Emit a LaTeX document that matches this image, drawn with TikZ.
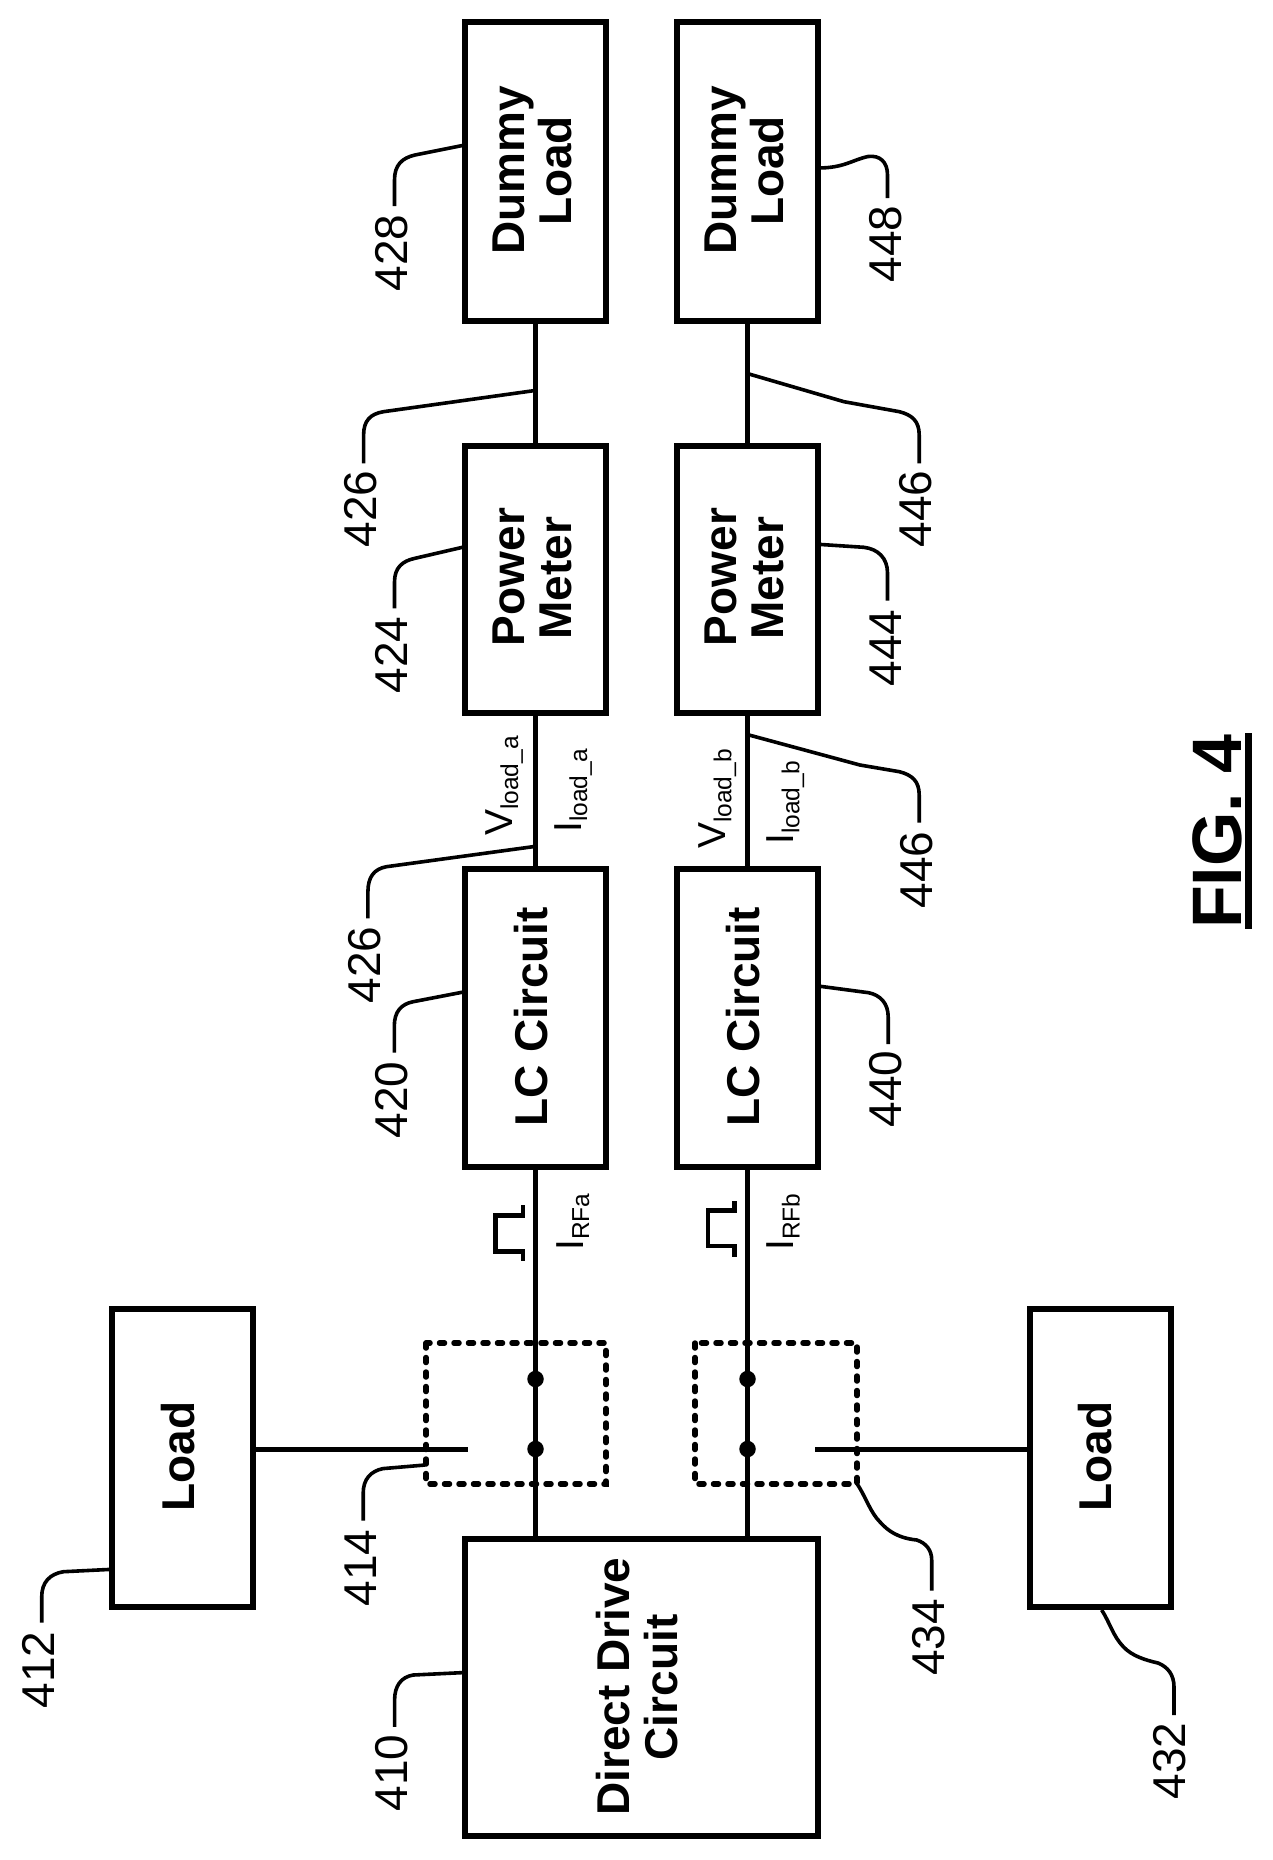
\documentclass[tikz,border=0pt]{standalone}
\usepackage{fontspec}
\setmainfont{Liberation Sans}
\tikzset{
  blk/.style={draw=black,line width=5.5pt,fill=none,inner sep=0pt,outer sep=0pt,line join=miter},
  conn/.style={draw=black,line width=5pt},
  lead/.style={draw=black,line width=3.6pt},
  sw/.style={draw=black,line width=5.5pt,dash pattern=on 5pt off 9.5pt,line cap=round},
  dotn/.style={circle,fill=black,inner sep=0pt,minimum size=16.5pt},
  num/.style={rotate=90,anchor=base,inner sep=0pt,font=\fontsize{46}{50}\selectfont},
  btxt/.style={rotate=90,anchor=base,inner sep=0pt,font=\fontsize{46}{50}\selectfont\bfseries},
  sig/.style={rotate=90,anchor=base west,inner sep=0pt,font=\fontsize{39}{42}\selectfont},
  figt/.style={rotate=90,anchor=base west,inner sep=0pt,font=\fontsize{70}{74}\selectfont\bfseries},
}
\newcommand{\subt}[1]{\raisebox{-6pt}{\fontsize{24.5}{26}\selectfont #1}}
\begin{document}
\begin{tikzpicture}[x=1pt,y=-1pt]
\useasboundingbox (0,0) rectangle (1272,1860);
\fill[white] (0,0) rectangle (1272,1860);
% boxes
\node[blk,minimum width=141pt,minimum height=299pt] (dlA) at (535.5,171.5) {};
\node[blk,minimum width=141pt,minimum height=299pt] (dlB) at (747.5,171.5) {};
\node[blk,minimum width=141pt,minimum height=267pt] (pmA) at (535.5,579.5) {};
\node[blk,minimum width=141pt,minimum height=267pt] (pmB) at (747.5,579.5) {};
\node[blk,minimum width=141pt,minimum height=298pt] (lcA) at (535.5,1018) {};
\node[blk,minimum width=141pt,minimum height=298pt] (lcB) at (747.5,1018) {};
\node[blk,minimum width=353pt,minimum height=297pt] (dd) at (641.5,1687.5) {};
\node[blk,minimum width=141pt,minimum height=298pt] (loadL) at (182.5,1458) {};
\node[blk,minimum width=141pt,minimum height=298pt] (loadR) at (1100.5,1458) {};
% box texts
\node[btxt] (tDa) at (524,170.5) {Dummy};
\node[btxt] (tLa) at (571,171) {Load};
\node[btxt] (tDb) at (736,170.5) {Dummy};
\node[btxt] (tLb) at (783,171) {Load};
\node[btxt] (tPa) at (524,577) {Power};
\node[btxt] (tMa) at (571,578) {Meter};
\node[btxt] (tPb) at (736.5,577) {Power};
\node[btxt] (tMb) at (783.5,578) {Meter};
\node[btxt] (tCa) at (547,1017) {LC Circuit};
\node[btxt] (tCb) at (759,1017) {LC Circuit};
\node[btxt] (tDD) at (629,1686.5) {Direct Drive};
\node[btxt] (tCi) at (677,1687.5) {Circuit};
\node[btxt] (tLL) at (194.3,1456.7) {Load};
\node[btxt] (tLR) at (1111.7,1456.7) {Load};
% switch contacts
\node[dotn] (dotA1) at (535.5,1379) {};
\node[dotn] (dotA2) at (535.5,1449) {};
\node[dotn] (dotB1) at (747.5,1379) {};
\node[dotn] (dotB2) at (747.5,1449) {};
\coordinate (swA) at (467.5,1449);
\coordinate (swB) at (815,1449);
% connectors
\draw[conn] (dlA.south) -- (pmA.north);
\draw[conn] (pmA.south) -- (lcA.north);
\draw[conn] (lcA.south) -- (dotA1) -- (dotA2) -- (dotA2 |- dd.north);
\draw[conn] (dlB.south) -- (pmB.north);
\draw[conn] (pmB.south) -- (lcB.north);
\draw[conn] (lcB.south) -- (dotB1) -- (dotB2) -- (dotB2 |- dd.north);
\draw[conn] (loadL.east |- swA) -- (swA);
\draw[conn] (loadR.west |- swB) -- (swB);
% dashed switch boxes
\draw[sw] (426,1343) rectangle (606,1484);
\draw[sw] (695,1343) rectangle (857,1484);
% leaders
\draw[lead] (dlA.west |- 0,145) -- (415,155) .. controls (402,158) and (394.5,165) .. (394.5,180) -- (394.5,206);
\draw[lead] (dlB.east |- 0,168) .. controls (844,168) and (852,160) .. (868,156.5) .. controls (880,155) and (887.5,162) .. (887.5,175) -- (887.5,198);
\draw[lead] (533.6,390.7) -- (383.4,411.7) .. controls (370,414) and (363.6,421) .. (363.6,435) -- (363.6,463.3);
\draw[lead] (749,374) -- (844,401.7) -- (899.4,411.7) .. controls (912,415) and (919.2,421) .. (919.2,435) -- (919.2,463.3);
\draw[lead] (pmA.west |- 0,546.7) -- (415,558.3) .. controls (402,561) and (394.5,568) .. (394.5,582) -- (394.5,608.3);
\draw[lead] (pmB.east |- 0,544.3) -- (863.8,547.3) .. controls (878,549) and (887.5,558) .. (887.5,573) -- (887.5,600.7);
\draw[lead] (749,735) -- (859.9,765) -- (899.4,771.7) .. controls (912,775) and (919.2,781) .. (919.2,795) -- (919.2,822.7);
\draw[lead] (533,846.7) -- (386.4,866.7) .. controls (374,869) and (367.9,877) .. (367.9,892) -- (367.9,918.3);
\draw[lead] (lcA.west |- 0,991.7) -- (413.2,1001.7) .. controls (401,1004) and (394.3,1012) .. (394.3,1026) -- (394.3,1052.7);
\draw[lead] (lcB.east |- 0,986) -- (868.6,992.7) .. controls (880,995) and (888.2,1003) .. (888.2,1017) -- (888.2,1044);
\draw[lead] (dd.west |- 0,1672.5) -- (413.2,1675) .. controls (401,1677) and (394.6,1686) .. (394.6,1700) -- (394.6,1726.8);
\draw[lead] (425,1465) -- (382.9,1468.6) .. controls (371,1471) and (363.2,1479) .. (363.2,1493) -- (363.2,1520.7);
\draw[lead] (loadL.west |- 0,1569.3) -- (63.3,1571.7) .. controls (50,1574) and (41.7,1582) .. (41.7,1597) -- (41.7,1622.7);
\draw[lead] (856.7,1483.3) .. controls (866,1497) and (870,1512) .. (880,1522) .. controls (888,1531) and (898,1538) .. (916.7,1540) .. controls (926,1543) and (931.7,1550) .. (931.7,1560) -- (931.7,1590.7);
\draw[lead] (1101.7,1610) .. controls (1110,1623) and (1113,1636) .. (1123.3,1646.7) .. controls (1132,1656) and (1145,1660) .. (1158,1663) .. controls (1168,1667) and (1174,1675) .. (1174,1687) -- (1174,1715);
% reference numerals
\node[num] (n428) at (407,253) {428};
\node[num] (n448) at (901.4,243.8) {448};
\node[num] (n426a) at (376.3,509) {426};
\node[num] (n446a) at (931.8,509) {446};
\node[num] (n424) at (407,655) {424};
\node[num] (n444) at (901.4,648) {444};
\node[num] (n446b) at (932,870) {446};
\node[num] (n426b) at (380.4,965) {426};
\node[num] (n420) at (407,1100) {420};
\node[num] (n440) at (901,1089) {440};
\node[num] (n410) at (407,1773) {410};
\node[num] (n414) at (376.4,1568) {414};
\node[num] (n412) at (54.5,1670) {412};
\node[num] (n434) at (944,1637.5) {434};
\node[num] (n432) at (1185,1761) {432};
% signal labels
\node[sig] (vla) at (512,836) {V\subt{load\_a}};
\node[sig] (ila) at (581,833) {I\subt{load\_a}};
\node[sig] (vlb) at (725.4,849) {V\subt{load\_b}};
\node[sig] (ilb) at (793.4,845) {I\subt{load\_b}};
\node[sig] (irfa) at (583,1251) {I\subt{RFa}};
\node[sig] (irfb) at (793.6,1251) {I\subt{RFb}};
% pulses
\draw[conn,line width=4.5pt] (523.2,1260.7) -- (523.2,1251.7) -- (495.4,1251.7) -- (495.4,1215.5) -- (523.2,1215.5) -- (523.2,1205);
\draw[conn,line width=4.5pt] (734.6,1256.7) -- (734.6,1246) -- (707.9,1246) -- (707.9,1210.7) -- (734.6,1210.7) -- (734.6,1200.7);
% figure caption
\node[figt] (figl) at (1241,929) {FIG. 4};
\fill[black] (1245,732.7) rectangle (1252,929);
\end{tikzpicture}
\end{document}
